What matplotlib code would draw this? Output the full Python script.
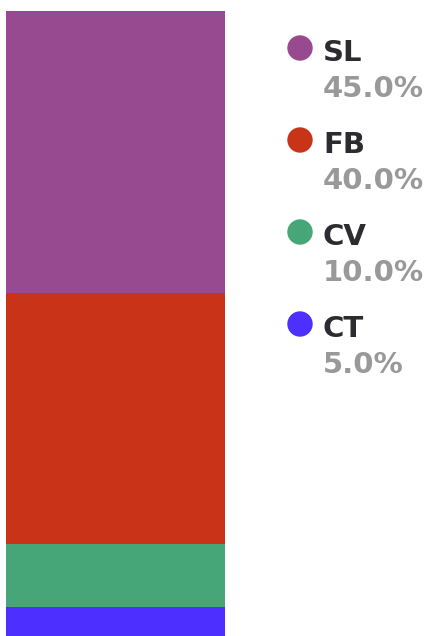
import matplotlib
matplotlib.use('Agg')
from matplotlib import pyplot as plt
from matplotlib.patches import Ellipse

labels = ['SL', 'FB', 'CV', 'CT']
shares = [45.0, 40.0, 10.0, 5.0]
colors = ['#984a90', '#c93317', '#47a678', '#4d2fff']

fig = plt.figure(figsize=(4.3, 6.36), dpi=100)
ax = fig.add_axes([6 / 430, -2 / 636, 219 / 430, 627 / 636])

# stacked from the bottom: CT, CV, FB, SL
bottom = 0
for lab, val, col in reversed(list(zip(labels, shares, colors))):
    ax.bar(0, val, bottom=bottom, width=1, color=col)
    bottom += val
ax.set_xlim(-0.5, 0.5)
ax.set_ylim(0, 100)
ax.axis('off')

# legend on the right
for i, (lab, val, col) in enumerate(zip(labels, shares, colors)):
    y = 1 - (48 + i * 92) / 636
    fig.add_artist(Ellipse((300 / 430, y), 24 / 430, 24 / 636,
                           transform=fig.transFigure, color=col))
    fig.text(323 / 430, y - 5 / 636, lab, fontsize=21, fontweight='bold',
             color='#2b2b30', va='center', ha='left')
    fig.text(323 / 430, y - 41 / 636, f'{val:.1f}%', fontsize=21, fontweight='bold',
             color='#999999', va='center', ha='left')

fig.savefig('out.png')
